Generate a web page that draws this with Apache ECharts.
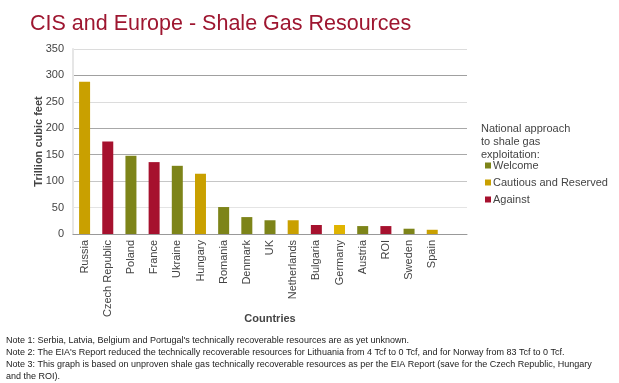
<!DOCTYPE html>
<html><head><meta charset="utf-8">
<script src="https://cdn.jsdelivr.net/npm/echarts@6/dist/echarts.min.js"></script>
<style>html,body{margin:0;padding:0;background:#fff}#c{width:619px;height:383px}</style>
</head><body><div id="c"></div>
<script>
const countries = ['Russia','Czech Republic','Poland','France','Ukraine','Hungary','Romania','Denmark','UK','Netherlands','Bulgaria','Germany','Austria','ROI','Sweden','Spain',''];
const values = [288,175,148,136,129,114,51,32,26,26,17,17,15,15,10,8,null];
const approach = ['C','A','W','A','W','C','W','W','W','C','A','C','W','A','W','C',''];
const yTicks = [0,50,100,150,200,250,300,350];
const notes = [
  "Note 1: Serbia, Latvia, Belgium and Portugal's technically recoverable resources are as yet unknown.",
  "Note 2: The EIA's Report reduced the technically recoverable resources for Lithuania from 4 Tcf to 0 Tcf, and for Norway from 83 Tcf to 0 Tcf.",
  "Note 3: This graph is based on unproven shale gas technically recoverable resources as per the EIA Report (save for the Czech Republic, Hungary",
  "and the ROI)."
];
const groups = [
  {key:'W', name:'Welcome', color:'#7d8419'},
  {key:'C', name:'Cautious and Reserved', color:'#c9a000'},
  {key:'A', name:'Against', color:'#a6112e'}
];
const font = '"Liberation Sans", Arial, sans-serif';
const chart = echarts.init(document.getElementById('c'));
const series = groups.map(g => ({
  name: g.name, type: 'bar', stack: 's', barWidth: 11,
  itemStyle: {color: g.color},
  data: values.map((v,i) => approach[i] === g.key ? (countries[i]==='Germany' ? {value:v, itemStyle:{color:'#e0b400'}} : v) : null)
}));
chart.setOption({
  animation: false,
  textStyle: {fontFamily: font},
  title: {text: 'CIS and Europe - Shale Gas Resources', left: 25, top: 8,
    textStyle: {fontFamily: font, fontSize: 21.5, fontWeight: 'normal', color: '#9e1630'}},
  grid: {left: 73, right: 152, top: 49, bottom: 149},
  legend: {orient: 'vertical', left: 480, top: 155, itemWidth: 6, itemHeight: 6, itemGap: 6,
    icon: 'rect', textStyle: {fontFamily: font, fontSize: 11, color: '#444', padding: [0,0,0,-3]},
    data: groups.map(g => g.name)},
  graphic: [
    {type: 'text', left: 481, top: 122, style: {text: 'National approach\nto shale gas\nexploitation:', font: '11px ' + font, fill: '#444', lineHeight: 13}},
    {type: 'text', left: 6, top: 335, style: {text: notes.join('\n'), font: '9px ' + font, fill: '#222', lineHeight: 12}}
  ],
  xAxis: {type: 'category', data: countries, name: 'Countries', nameLocation: 'middle', nameGap: 79, nameMoveOverlap: false,
    nameTextStyle: {fontFamily: font, fontSize: 11, fontWeight: 'bold', color: '#444'},
    axisLine: {lineStyle: {color: '#999'}}, axisTick: {length: 4, lineStyle: {color: '#999'}},
    axisLabel: {rotate: 90, interval: 0, fontSize: 11, color: '#444', margin: 6}},
  yAxis: {type: 'value', min: 0, max: 350, interval: 50, name: 'Trillion cubic feet', nameLocation: 'middle', nameGap: 29, nameMoveOverlap: false,
    nameTextStyle: {fontFamily: font, fontSize: 11, fontWeight: 'bold', color: '#444'},
    axisLine: {show: true, lineStyle: {color: '#e6e6e6', width: 2}}, axisTick: {show: false},
    axisLabel: {fontSize: 11, color: '#444', margin: 9},
    splitLine: {lineStyle: {color: ['#999','#e4e4e4','#c6c6c6','#a8a8a8','#a8a8a8','#dcdcdc','#a0a0a0','#dcdcdc']}}},
  series: series
});
</script></body></html>
